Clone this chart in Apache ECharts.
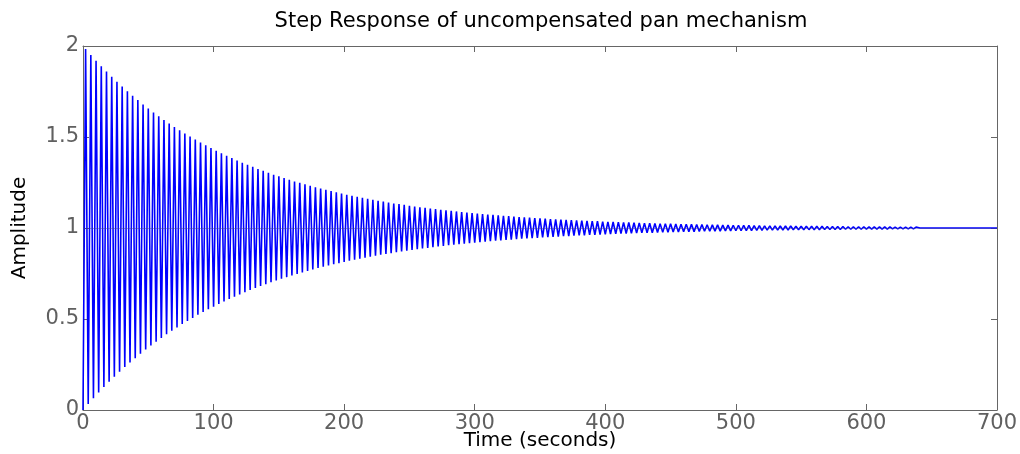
<!DOCTYPE html>
<html>
<head>
<meta charset="utf-8">
<script src="https://cdn.jsdelivr.net/npm/echarts@6/dist/echarts.min.js"></script>
<style>
  html, body { margin: 0; padding: 0; background: #fff; }
  #chart { width: 1020px; height: 454px; }
</style>
</head>
<body>
<div id="chart"></div>
<script>
// step response: one peak and one trough per cycle
var halfPeriod = 2;      // seconds between a trough and the next peak
var finalValue = 1;
var tailTimes = [641, 700];
var tailValues = [1, 1];
var xTicks = [0, 100, 200, 300, 400, 500, 600, 700];
var yTicks = [0, 0.5, 1, 1.5, 2];

// troughs at t = 0, 4, 8, ...
var troughs = [
  0.000,0.033,0.065,0.096,0.126, 0.155,0.183,0.210,0.236,0.261,
  0.285,0.309,0.332,0.354,0.375, 0.396,0.416,0.435,0.454,0.472,
  0.489,0.506,0.523,0.538,0.554, 0.568,0.583,0.596,0.610,0.623,
  0.635,0.647,0.659,0.670,0.681, 0.691,0.702,0.712,0.721,0.730,
  0.739,0.748,0.756,0.764,0.772, 0.780,0.787,0.794,0.801,0.807,
  0.814,0.820,0.826,0.831,0.837, 0.842,0.848,0.853,0.858,0.862,
  0.867,0.871,0.875,0.880,0.884, 0.887,0.891,0.895,0.898,0.902,
  0.905,0.908,0.911,0.914,0.917, 0.920,0.922,0.925,0.927,0.930,
  0.932,0.934,0.936,0.939,0.941, 0.943,0.944,0.946,0.948,0.950,
  0.951,0.953,0.955,0.956,0.958, 0.959,0.960,0.962,0.963,0.964,
  0.965,0.966,0.968,0.969,0.970, 0.971,0.972,0.973,0.973,0.974,
  0.975,0.976,0.977,0.978,0.978, 0.979,0.980,0.980,0.981,0.982,
  0.982,0.983,0.983,0.984,0.984, 0.985,0.985,0.986,0.986,0.987,
  0.987,0.988,0.988,0.989,0.989, 0.989,0.990,0.990,0.990,0.991,
  0.991,0.991,0.992,0.992,0.992, 0.992,0.993,0.993,0.993,0.993,
  0.994,0.994,0.994,0.994,0.994, 0.995,0.995,0.995,0.995,0.995
];
// peaks at t = 2, 6, 10, ...
var peaks = [
  1.983,1.951,1.919,1.889,1.860, 1.831,1.804,1.777,1.752,1.727,
  1.703,1.679,1.657,1.635,1.614, 1.594,1.574,1.555,1.537,1.519,
  1.502,1.486,1.470,1.454,1.439, 1.425,1.410,1.397,1.384,1.371,
  1.359,1.347,1.336,1.324,1.314, 1.303,1.293,1.284,1.274,1.265,
  1.256,1.248,1.240,1.232,1.224, 1.217,1.210,1.203,1.196,1.190,
  1.183,1.177,1.171,1.166,1.160, 1.155,1.150,1.145,1.140,1.135,
  1.131,1.127,1.122,1.118,1.114, 1.111,1.107,1.104,1.100,1.097,
  1.094,1.091,1.088,1.085,1.082, 1.079,1.077,1.074,1.072,1.069,
  1.067,1.065,1.063,1.060,1.058, 1.057,1.055,1.053,1.051,1.049,
  1.048,1.046,1.045,1.043,1.042, 1.040,1.039,1.038,1.037,1.035,
  1.034,1.033,1.032,1.031,1.030, 1.029,1.028,1.027,1.026,1.025,
  1.024,1.024,1.023,1.022,1.021, 1.021,1.020,1.019,1.019,1.018,
  1.017,1.017,1.016,1.016,1.015, 1.015,1.014,1.014,1.013,1.013,
  1.012,1.012,1.012,1.011,1.011, 1.011,1.010,1.010,1.010,1.009,
  1.009,1.009,1.008,1.008,1.008, 1.008,1.007,1.007,1.007,1.007,
  1.006,1.006,1.006,1.006,1.006, 1.005,1.005,1.005,1.005,1.005
];

var response = [];
for (var k = 0; k < peaks.length; k++) {
  response.push([2 * k * halfPeriod, troughs[k]]);
  response.push([(2 * k + 1) * halfPeriod, peaks[k]]);
}
tailTimes.forEach(function (t, i) {
  response.push([t, tailValues[i]]);
});

var font = 'DejaVu Sans';
var axisGray = '#666666';

function boxAxis(pos, isX, showLabel) {
  return {
    type: 'value',
    position: pos,
    min: isX ? xTicks[0] : yTicks[0],
    max: isX ? xTicks[xTicks.length - 1] : yTicks[yTicks.length - 1],
    interval: isX ? 100 : 0.5,
    splitLine: { show: false },
    axisLine: { show: true, onZero: false, lineStyle: { color: axisGray, width: 1 } },
    axisTick: { show: true, inside: true, length: 6, lineStyle: { color: axisGray } },
    axisLabel: {
      show: showLabel,
      color: '#606060',
      fontFamily: font,
      fontSize: 21,
      margin: isX ? 3 : 4
    }
  };
}

var xBottom = boxAxis('bottom', true, true);
xBottom.name = 'Time (seconds)';
xBottom.nameLocation = 'middle';
xBottom.nameGap = 21;
xBottom.nameMoveOverlap = false;
xBottom.nameTextStyle = { color: '#000', fontFamily: font, fontSize: 20 };

var yLeft = boxAxis('left', false, true);
yLeft.name = 'Amplitude';
yLeft.nameLocation = 'middle';
yLeft.nameGap = 53;
yLeft.nameMoveOverlap = false;
yLeft.nameTextStyle = { color: '#000', fontFamily: font, fontSize: 20 };

var chart = echarts.init(document.getElementById('chart'), null, { renderer: 'canvas' });
chart.setOption({
  animation: false,
  backgroundColor: '#ffffff',
  title: {
    text: 'Step Response of uncompensated pan mechanism',
    left: 536,
    textAlign: 'center',
    top: 6,
    textStyle: { color: '#000', fontFamily: font, fontSize: 21, fontWeight: 'normal' }
  },
  grid: {
    left: 83, right: 23, top: 46, bottom: 44,
    containLabel: false,
    outerBoundsMode: 'none'
  },
  xAxis: [xBottom, boxAxis('top', true, false)],
  yAxis: [yLeft, boxAxis('right', false, false)],
  series: [{
    type: 'line',
    xAxisIndex: 0,
    yAxisIndex: 0,
    data: response,
    showSymbol: false,
    symbol: 'none',
    sampling: null,
    smooth: false,
    lineStyle: { color: '#0000ff', width: 1.6 },
    markLine: {
      silent: true,
      symbol: 'none',
      label: { show: false },
      lineStyle: { color: 'rgba(60,60,160,0.45)', width: 1, type: 'solid' },
      data: [{ yAxis: finalValue }]
    },
    z: 3
  }]
});
</script>
</body>
</html>
